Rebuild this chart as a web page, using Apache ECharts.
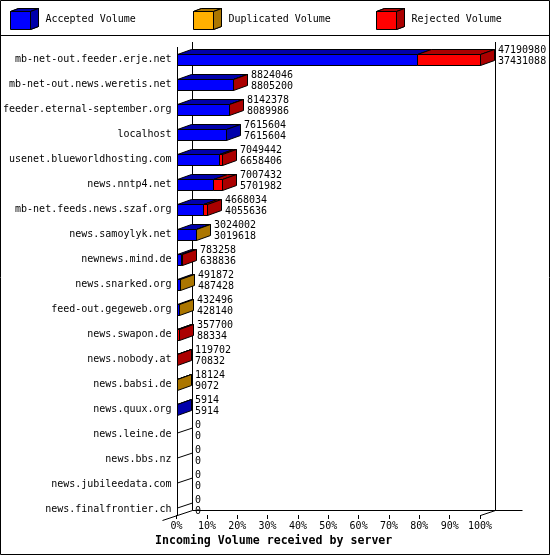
<!DOCTYPE html>
<html>
<head>
<meta charset="utf-8">
<script src="https://cdn.jsdelivr.net/npm/echarts@6/dist/echarts.min.js"></script>
<style>
html,body{margin:0;padding:0;background:#fff;}
#chart{width:550px;height:555px;}
</style>
</head>
<body>
<div id="chart"></div>
<script>
const categories = [
  'mb-net-out.feeder.erje.net','mb-net-out.news.weretis.net','feeder.eternal-september.org',
  'localhost','usenet.blueworldhosting.com','news.nntp4.net','mb-net.feeds.news.szaf.org',
  'news.samoylyk.net','newnews.mind.de','news.snarked.org','feed-out.gegeweb.org',
  'news.swapon.de','news.nobody.at','news.babsi.de','news.quux.org','news.leine.de',
  'news.bbs.nz','news.jubileedata.com','news.finalfrontier.ch'
];
const totalVolume = [47190980, 8824046, 8142378, 7615604, 7049442, 7007432, 4668034, 3024002,
  783258, 491872, 432496, 357700, 119702, 18124, 5914, 0, 0, 0, 0];
const acceptedVolume = [37431088, 8805200, 8089986, 7615604, 6658406, 5701982, 4055636, 3019618,
  638836, 487428, 428140, 88334, 70832, 9072, 5914, 0, 0, 0, 0];
const duplicatedVolume = [0, 0, 0, 0, 0, 0, 0, 4384, 0, 4444, 4356, 0, 0, 9052, 0, 0, 0, 0, 0];
const rejectedVolume = [9759892, 18846, 52392, 0, 391036, 1305450, 612398, 0, 144422, 0, 0,
  269366, 48870, 0, 0, 0, 0, 0, 0];
const seriesNames = ['Accepted Volume', 'Duplicated Volume', 'Rejected Volume'];
const tickPercents = [0, 10, 20, 30, 40, 50, 60, 70, 80, 90, 100];

const FRONT = ['#0000FF', '#FFB000', '#FF0000'];
const DARK = ['#0000AB', '#AB7600', '#AB0000'];
const FONT = '"DejaVu Sans Mono", monospace';
const DX = 14, DY = 5;     // bar depth
const FD = 15, FDY = 5;    // frame depth
const snap = v => Math.round(v) + 0.5;

const segs = [acceptedVolume, duplicatedVolume, rejectedVolume];
const maxTotal = Math.max.apply(null, totalVolume);

// build stacked segment data
const segData = [[], [], []];
categories.forEach((c, i) => {
  let lastIdx = -1;
  segs.forEach((arr, s) => { if (arr[i] > 0) lastIdx = s; });
  let cum = 0;
  segs.forEach((arr, s) => {
    segData[s].push([cum, cum + arr[i], i, s === lastIdx ? 1 : 0]);
    cum += arr[i];
  });
});
const labelData = categories.map((c, i) => [totalVolume[i], acceptedVolume[i], i]);

function segRender(s) {
  return function (params, api) {
    const start = api.value(0), end = api.value(1), idx = api.value(2), last = api.value(3);
    if (end <= start) return null;
    const p0 = api.coord([start, idx]);
    const p1 = api.coord([end, idx]);
    const h = api.size([0, 1])[1] * 0.44;
    const x0 = snap(p0[0]), x1 = snap(p1[0]);
    const top = snap(p0[1] - h / 2), bot = snap(p0[1] + h / 2);
    const st = (fill) => ({ fill: fill, stroke: '#000', lineWidth: 1 });
    const children = [
      { type: 'polygon', shape: { points: [[x0, top], [x0 + DX, top - DY], [x1 + DX, top - DY], [x1, top]] }, style: st(DARK[s]) },
      { type: 'rect', shape: { x: x0, y: top, width: Math.max(x1 - x0, 0), height: bot - top }, style: st(FRONT[s]) }
    ];
    if (last) {
      children.push({ type: 'polygon', shape: { points: [[x1, top], [x1 + DX, top - DY], [x1 + DX, bot - DY], [x1, bot]] }, style: st(DARK[s]) });
    }
    return { type: 'group', children: children };
  };
}

function labelRender(params, api) {
  const total = api.value(0), acc = api.value(1), idx = api.value(2);
  const p = api.coord([total, idx]);
  const x = Math.round(p[0]) + DX + 4;
  const mk = (t, y) => ({ type: 'text', style: { text: String(t), x: x, y: y, font: '10px ' + FONT, fill: '#000', align: 'left', verticalAlign: 'middle' } });
  return { type: 'group', children: [mk(total, p[1] - 9.5), mk(acc, p[1] + 1.5)] };
}

function frameRender(params, api) {
  const cs = params.coordSys;
  const L = snap(cs.x), T = Math.round(cs.y), R = snap(cs.x + cs.width), B = cs.y + cs.height;
  const F = snap(B - 7);
  const ls = { stroke: '#000', lineWidth: 1, fill: null };
  const line = (x1, y1, x2, y2) => ({ type: 'line', shape: { x1: x1, y1: y1, x2: x2, y2: y2 }, style: ls });
  const ch = [
    line(L, T, L, F),
    line(L + FD, T - FDY, L + FD, F - FDY),
    line(R + FD, T - FDY, R + FD, F - FDY),
    line(L + FD, F - FDY, R + FD + 27, F - FDY),
    line(L - 15, F + 5, L + FD, F - FDY),
    line(R, F, R + FD, F - FDY)
  ];
  categories.forEach((c, i) => {
    const y = Math.round(api.coord([0, i])[1]);
    ch.push(line(L, y - 2, L + FD, y - 7));
  });
  return { type: 'group', children: ch };
}

const cubePath = 'path://M0,3L20,3L20,21L0,21Z M0,3L8,0L28,0L20,3Z M20,3L28,0L28,18L20,21Z';
const legendX = [10, 193, 376];
const legendTop = 8;

const legends = seriesNames.map((n, k) => ({
  left: legendX[k], top: legendTop, padding: 0, itemGap: 0,
  itemWidth: 28, itemHeight: 21, icon: cubePath, selectedMode: false,
  itemStyle: { borderColor: '#000', borderWidth: 1 },
  data: [n],
  textStyle: { fontFamily: FONT, fontSize: 10, color: '#000', padding: [3, 0, 0, 2] }
}));

const graphics = [
  { type: 'rect', z: 20, silent: true, shape: { x: 0.5, y: 0.5, width: 549, height: 554 }, style: { fill: null, stroke: '#000', lineWidth: 1 } },
  { type: 'line', z: 20, silent: true, shape: { x1: 0, y1: 35.5, x2: 550, y2: 35.5 }, style: { stroke: '#000', lineWidth: 1 } }
];
legendX.forEach((lx, k) => {
  const x = lx + 0.5, y = legendTop + 0.5;
  graphics.push({ type: 'polygon', z: 20, silent: true, shape: { points: [[x, y + 3], [x + 8, y], [x + 28, y], [x + 20, y + 3]] }, style: { fill: DARK[k], stroke: '#000', lineWidth: 1 } });
  graphics.push({ type: 'polygon', z: 20, silent: true, shape: { points: [[x + 20, y + 3], [x + 28, y], [x + 28, y + 18], [x + 20, y + 21]] }, style: { fill: DARK[k], stroke: '#000', lineWidth: 1 } });
});

const chart = echarts.init(document.getElementById('chart'), null, { renderer: 'canvas' });
chart.setOption({
  backgroundColor: '#fff',
  animation: false,
  title: {
    text: 'Incoming Volume received by server',
    left: 155, top: 535, padding: 0,
    textStyle: { fontFamily: FONT, fontSize: 11.6, fontWeight: 'bold', color: '#000' }
  },
  legend: legends,
  graphic: graphics,
  grid: { left: 176, top: 47, width: 304, height: 475, containLabel: false },
  xAxis: {
    type: 'value', min: 0, max: maxTotal, interval: maxTotal / 10, offset: -7,
    axisLine: { show: false },
    axisTick: { show: true, length: 4, lineStyle: { color: '#000', width: 1 } },
    splitLine: { show: false },
    axisLabel: {
      margin: 6, fontFamily: FONT, fontSize: 10, color: '#000',
      formatter: v => tickPercents[Math.round(v / maxTotal * 10)] + '%'
    }
  },
  yAxis: {
    type: 'category', data: categories, inverse: true,
    axisLine: { show: false }, axisTick: { show: false }, splitLine: { show: false },
    axisLabel: { margin: 5, fontFamily: FONT, fontSize: 10, color: '#000' }
  },
  series: [
    { type: 'custom', name: '_frame', silent: true, z: 1, renderItem: frameRender, data: [[0, 0]], encode: { x: 0, y: 1 } }
  ].concat(seriesNames.map((n, s) => ({
    type: 'custom', name: n, z: 2 + s,
    itemStyle: { color: FRONT[s], borderColor: '#000', borderWidth: 1 },
    renderItem: segRender(s), data: segData[s], encode: { x: [0, 1], y: 2 }
  }))).concat([
    { type: 'custom', name: '_labels', silent: true, z: 6, renderItem: labelRender, data: labelData, encode: { x: 0, y: 2 } }
  ])
});
</script>
</body>
</html>
